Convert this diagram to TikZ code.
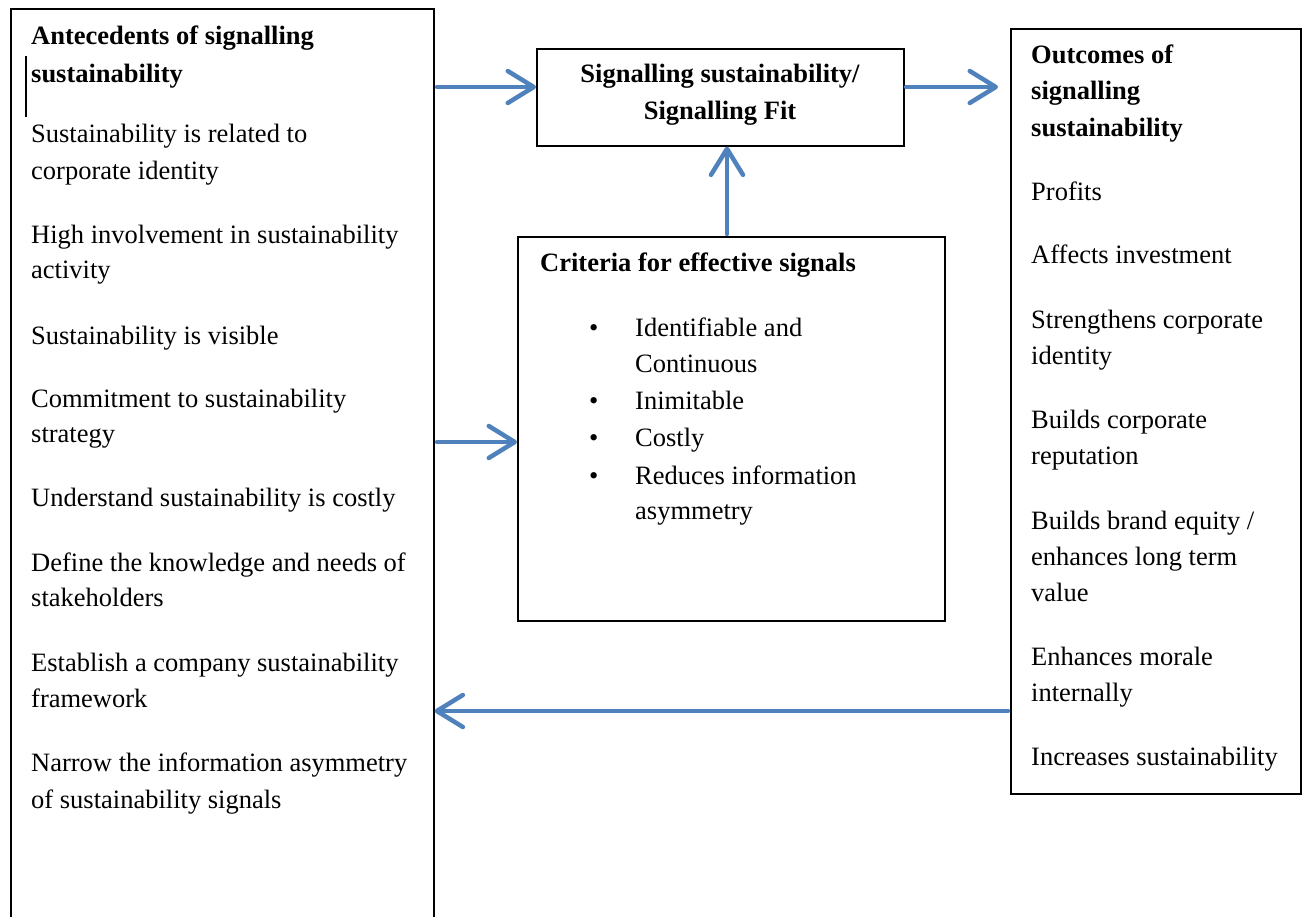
\documentclass[tikz,border=0pt]{standalone}
\usepackage{fontspec}
\setmainfont{Liberation Serif}
\usetikzlibrary{arrows.meta,calc}
\definecolor{arrblue}{RGB}{79,129,189}
\tikzset{
  box/.style={draw=black,line width=1.6pt,inner sep=0pt,anchor=north west},
  txt/.style={anchor=base west,inner sep=0pt,font=\fontsize{26.5}{30}\selectfont},
  btxt/.style={txt,font=\fontsize{26.5}{30}\selectfont\bfseries},
  ctxt/.style={anchor=base,inner sep=0pt,font=\fontsize{26.5}{30}\selectfont\bfseries},
  arr/.style={draw=arrblue,line width=4.5pt,line cap=round,-{Straight Barb[length=26pt,width=32pt,line width=4.5pt,round]}},
}
\begin{document}
\begin{tikzpicture}[x=1pt,y=-1pt]
\useasboundingbox (0,0) rectangle (1306,917);
\clip (0,0) rectangle (1306,917);
\fill[white] (0,0) rectangle (1306,917);
% boxes
\node[box,minimum width=423pt,minimum height=930pt] (L) at (10,8) {};
\node[box,minimum width=367pt,minimum height=97pt] (C) at (536,48) {};
\node[box,minimum width=427pt,minimum height=384pt] (K) at (517,236) {};
\node[box,minimum width=290pt,minimum height=765pt] (R) at (1010,28) {};
% cursor mark
\draw[line width=1.5pt] (26,56) -- (26,117);
% left texts
\node[btxt] (l1) at (31,45) {Antecedents of signalling};
\node[btxt] (l2) at (31,83) {sustainability};
\node[txt] (l3) at (31,143) {Sustainability is related to};
\node[txt] (l4) at (31,180) {corporate identity};
\node[txt] (l5) at (31,244) {High involvement in sustainability};
\node[txt] (l6) at (31,279) {activity};
\node[txt] (l7) at (31,344) {Sustainability is visible};
\node[txt] (l8) at (31,407) {Commitment to sustainability};
\node[txt] (l9) at (31,442) {strategy};
\node[txt] (l10) at (31,506) {Understand sustainability is costly};
\node[txt] (l11) at (31,571) {Define the knowledge and needs of};
\node[txt] (l12) at (31,606) {stakeholders};
\node[txt] (l13) at (31,671) {Establish a company sustainability};
\node[txt] (l14) at (31,707) {framework};
\node[txt] (l15) at (31,771) {Narrow the information asymmetry};
\node[txt] (l16) at (31,808) {of sustainability signals};
% centre box
\node[ctxt] (c1) at (720,83) {Signalling sustainability/};
\node[ctxt] (c2) at (720,120) {Signalling Fit};
% criteria
\node[btxt] (k0) at (540,272) {Criteria for effective signals};
\foreach \yy/\nm in {336/b1,409/b2,446/b3,484/b4}{
  \node[txt] (\nm) at (589,\yy) {•};
}
\node[txt] (k1) at (635,336) {Identifiable and};
\node[txt] (k2) at (635,372) {Continuous};
\node[txt] (k3) at (635,409) {Inimitable};
\node[txt] (k4) at (635,446) {Costly};
\node[txt] (k5) at (635,484) {Reduces information};
\node[txt] (k6) at (635,519) {asymmetry};
% right texts
\node[btxt] (r1) at (1031,64) {Outcomes of};
\node[btxt] (r2) at (1031,100) {signalling};
\node[btxt] (r3) at (1031,137) {sustainability};
\node[txt] (r4) at (1031,201) {Profits};
\node[txt] (r5) at (1031,264) {Affects investment};
\node[txt] (r6) at (1031,328) {Strengthens corporate};
\node[txt] (r7) at (1031,364) {identity};
\node[txt] (r8) at (1031,428) {Builds corporate};
\node[txt] (r9) at (1031,464) {reputation};
\node[txt] (r10) at (1031,529) {Builds brand equity /};
\node[txt] (r11) at (1031,565) {enhances long term};
\node[txt] (r12) at (1031,601) {value};
\node[txt] (r13) at (1031,665) {Enhances morale};
\node[txt] (r14) at (1031,701) {internally};
\node[txt] (r15) at (1031,765) {Increases sustainability};
% arrows
\coordinate (a1) at (437,87);
\coordinate (a2) at (906,87);
\coordinate (a3) at (727,234);
\coordinate (a4) at (437,442);
\coordinate (a5) at (1008,711);
\draw[arr] (a1) -- (a1 -| C.west);
\draw[arr] (a2) -- (998,87);
\draw[arr] (a3) -- (a3 |- C.south);
\draw[arr] (a4) -- (a4 -| K.west);
\draw[arr] (a5) -- (a5 -| L.east);
\end{tikzpicture}
\end{document}
